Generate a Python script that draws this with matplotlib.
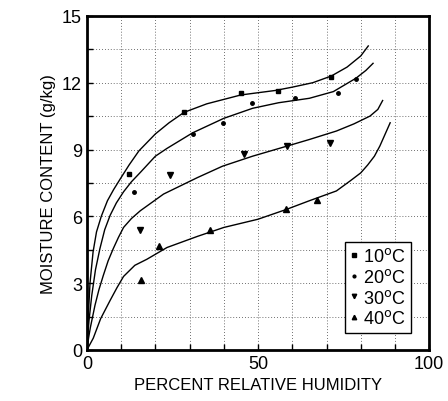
import numpy as np
import matplotlib
matplotlib.use('Agg')
import matplotlib.pyplot as plt
from matplotlib.ticker import MultipleLocator

plt.rcParams['font.family'] = ['Liberation Sans', 'DejaVu Sans']

# fitted curves (x = % RH, y = g/kg)
c10_x = [0, 0.2, 0.4, 0.9, 1.8, 2.8, 4.2, 6.0, 7.8, 9.7, 12.3, 15.2, 20, 24, 28.4, 35, 45, 55, 60, 66, 71.4, 76, 80, 82.2]
c10_y = [0, 0.8, 1.5, 3.0, 4.4, 5.3, 6.0, 6.7, 7.2, 7.67, 8.3, 8.94, 9.7, 10.2, 10.67, 11.05, 11.45, 11.65, 11.8, 12.0, 12.3, 12.7, 13.2, 13.65]
c20_x = [0, 0.3, 0.6, 1.4, 2.5, 3.8, 5.2, 6.8, 8.6, 10.7, 13, 15.6, 20, 23.4, 30.9, 40, 48.4, 56, 65, 72, 78.6, 81.5, 83.6]
c20_y = [0, 0.7, 1.3, 2.43, 3.6, 4.55, 5.4, 6.05, 6.6, 7.1, 7.55, 7.97, 8.7, 9.05, 9.75, 10.4, 10.85, 11.1, 11.3, 11.6, 12.2, 12.55, 12.87]
c30_x = [0, 0.5, 1, 2.35, 3.5, 4.8, 6.2, 7.7, 9.2, 10.7, 13, 15.6, 22.4, 32.3, 39.6, 48.4, 58.4, 65, 72.9, 78, 82.7, 85, 86.4]
c30_y = [0, 0.55, 1.0, 2.0, 2.7, 3.35, 4.0, 4.55, 5.05, 5.5, 5.9, 6.25, 7.0, 7.74, 8.25, 8.7, 9.15, 9.45, 9.83, 10.15, 10.5, 10.8, 11.2]
c40_x = [0, 1.86, 4, 6.8, 8.8, 10.7, 14, 17.5, 23.4, 32.3, 40, 50, 58.1, 65, 72.9, 77, 80, 82, 84, 85.6, 88.6]
c40_y = [0, 0.53, 1.4, 2.23, 2.8, 3.3, 3.8, 4.07, 4.6, 5.1, 5.5, 5.87, 6.3, 6.7, 7.14, 7.6, 7.95, 8.3, 8.7, 9.16, 10.2]

# measured points
p10_x = [12.4, 28.4, 45.0, 55.8, 71.4]
p10_y = [7.89, 10.67, 11.55, 11.63, 12.27]
p20_x = [13.9, 30.9, 39.7, 48.3, 60.7, 73.4, 78.6]
p20_y = [7.07, 9.69, 10.18, 11.08, 11.3, 11.55, 12.18]
p30_x = [15.4, 24.4, 46.0, 58.4, 71.1]
p30_y = [5.38, 7.85, 8.82, 9.16, 9.31]
p40_x = [15.9, 21.2, 36.1, 58.1, 67.1]
p40_y = [3.14, 4.67, 5.39, 6.35, 6.73]

labels = ['10$^{\\rm o}$C', '20$^{\\rm o}$C', '30$^{\\rm o}$C', '40$^{\\rm o}$C']

fig = plt.figure(figsize=(4.48, 4.02), dpi=100)
ax = fig.add_axes([0.194, 0.127, 0.764, 0.831])

for cx, cy in [(c10_x, c10_y), (c20_x, c20_y), (c30_x, c30_y), (c40_x, c40_y)]:
    ax.plot(cx, cy, color='black', lw=1.0, solid_joinstyle='round')

h1, = ax.plot(p10_x, p10_y, 's', color='black', ms=3, ls='none')
h2, = ax.plot(p20_x, p20_y, 'o', color='black', ms=2.5, ls='none')
h3, = ax.plot(p30_x, p30_y, 'v', color='black', ms=4, ls='none')
h4, = ax.plot(p40_x, p40_y, '^', color='black', ms=4, ls='none')

ax.set_xlim(0, 100)
ax.set_ylim(0, 15)
ax.set_xticks([0, 10, 20, 30, 40, 50, 60, 70, 80, 90, 100])
ax.set_xticklabels(['0', '', '', '', '', '50', '', '', '', '', '100'])
yt = np.arange(0, 15.01, 1.5)
ax.set_yticks(yt)
ax.set_yticklabels([('%d' % v) if abs(v % 3) < 1e-6 else '' for v in yt])
ax.tick_params(direction='in', length=4, width=1, labelsize=13, colors='black')
ax.grid(True, color='0.25', lw=0.6, ls=(0, (1, 2.5)))

for s in ax.spines.values():
    s.set_linewidth(2)

ax.set_xlabel('PERCENT RELATIVE HUMIDITY', fontsize=12)
ax.set_ylabel('MOISTURE CONTENT (g/kg)', fontsize=12)

leg = ax.legend([h1, h2, h3, h4], labels, loc='lower left', bbox_to_anchor=(0.754, 0.051),
                borderaxespad=0, handlelength=0.4, handletextpad=0.3, fontsize=13,
                frameon=True, fancybox=False, framealpha=1, edgecolor='black',
                labelspacing=0.15, borderpad=0.3, markerscale=0.8)
leg.get_frame().set_linewidth(1.0)

fig.savefig('out.png', dpi=100)
